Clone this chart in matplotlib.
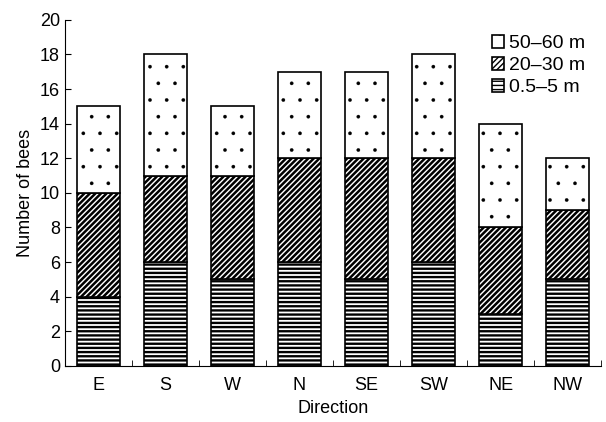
import numpy as np
import matplotlib
matplotlib.use('Agg')
from matplotlib import pyplot as plt

plt.rcParams['font.family'] = ['Liberation Sans', 'DejaVu Sans']

directions = ['E', 'S', 'W', 'N', 'SE', 'SW', 'NE', 'NW']
near = [4, 6, 5, 6, 5, 6, 3, 5]      # 0.5-5 m
mid = [6, 5, 6, 6, 7, 6, 5, 4]       # 20-30 m
far = [5, 7, 4, 5, 5, 6, 6, 3]       # 50-60 m

fig = plt.figure(figsize=(6.06, 4.22), dpi=100)
ax = fig.add_axes([0.107, 0.133, 0.885, 0.82])

x = np.arange(len(directions))
w = 0.64

def stack(vals, bottom, hatch, hlw, label):
    with plt.rc_context({'hatch.linewidth': hlw}):
        bars = ax.bar(x, vals, w, bottom=bottom, color='white', edgecolor='black',
                      hatch=hatch, lw=1.2, label=label)
    for p in bars:
        if hasattr(p, 'set_hatch_linewidth'):
            p.set_hatch_linewidth(hlw)
    return bars

b1 = stack(near, 0, '----', 1.7, '0.5\u20135 m')
b2 = stack(mid, near, '//////', 1.8, '20\u201330 m')
b3 = stack(far, np.array(near) + np.array(mid), '.', 0.2, '50\u201360 m')

ax.set_xlim(-0.5, 7.5)
ax.set_ylim(0, 20)
ax.set_yticks(range(0, 21, 2))
ax.set_xticks(x)
ax.set_xticklabels(directions)
ax.set_xticks(np.arange(-0.5, 8, 1), minor=True)
ax.tick_params(axis='x', which='major', length=0, labelsize=13, pad=8)
ax.tick_params(axis='x', which='minor', direction='in', length=4)
ax.tick_params(axis='y', direction='in', length=4, labelsize=13)
ax.spines['top'].set_visible(False)
ax.spines['right'].set_visible(False)
ax.set_xlabel('Direction', fontsize=13)
ax.set_ylabel('Number of bees', fontsize=13)

leg = ax.legend(handles=[b3, b2, b1], loc='upper right', frameon=False, fontsize=14,
                handlelength=0.6, handleheight=0.6, handletextpad=0.3, labelspacing=0.25,
                borderaxespad=0.4)

plt.savefig('out.png', dpi=100)
